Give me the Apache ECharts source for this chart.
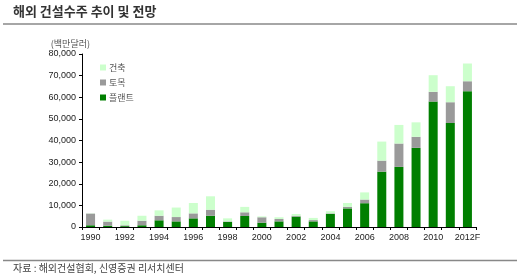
<!DOCTYPE html>
<html>
<head>
<meta charset="utf-8">
<script src="https://cdn.jsdelivr.net/npm/echarts@6/dist/echarts.min.js"></script>
<style>html,body{margin:0;padding:0;background:#fff}#c{width:520px;height:280px}</style>
</head>
<body>
<div id="c"></div>
<script>
var categories = ['1990','1991','1992','1993','1994','1995','1996','1997','1998','1999','2000','2001','2002','2003','2004','2005','2006','2007','2008','2009','2010','2011','2012F'];
var plant = [800,600,400,800,3100,2600,4000,5200,2300,5100,2000,2600,4800,2600,6000,8600,11000,25600,27800,36600,58000,48100,62800];
var civil = [5400,1900,400,2100,2100,2000,2300,2800,300,1700,2500,1100,400,600,300,700,1700,5100,10800,5100,4500,9600,4600];
var building = [100,900,2100,2300,2500,4400,4800,6200,1400,2500,400,800,800,1000,1000,1800,3300,8800,8600,6700,7700,7400,8200];
var yTicks = [0,10000,20000,30000,40000,50000,60000,70000,80000];

var chart = echarts.init(document.getElementById('c'), null, {renderer:'canvas'});
var font = '"Liberation Sans", Arial, sans-serif';
var kfont = '"Noto Sans CJK KR", sans-serif';
chart.setOption({
  animation:false,
  backgroundColor:'#fff',
  grid:{left:82,right:44,top:54,bottom:53,containLabel:false},
  legend:{
    orient:'vertical', left:95, top:58, itemGap:6, itemWidth:6, itemHeight:6, icon:'rect',
    data:['건축','토목','플랜트'],
    textStyle:{fontFamily:kfont,fontSize:9,color:'#555',padding:[0,0,0,-2]}
  },
  xAxis:{
    type:'category', data:categories, boundaryGap:true,
    axisLine:{lineStyle:{color:'#000',width:1}},
    axisTick:{show:true,interval:0,length:3,lineStyle:{color:'#000'}},
    axisLabel:{interval:1,fontFamily:font,fontSize:9,color:'#222',margin:6}
  },
  yAxis:{
    type:'value', min:yTicks[0], max:yTicks[yTicks.length-1], interval:yTicks[1]-yTicks[0],
    name:'(백만달러)', nameLocation:'end', nameGap:6,
    nameTextStyle:{fontFamily:kfont,fontSize:9,color:'#555',align:'right',padding:[0,-8,0,0]},
    axisLine:{show:true,lineStyle:{color:'#000',width:1}},
    axisTick:{show:true,length:3,lineStyle:{color:'#000'}},
    splitLine:{show:false},
    axisLabel:{fontFamily:font,fontSize:9,color:'#222',margin:6,
      formatter:function(v){return v.toLocaleString('en-US');}}
  },
  series:[
    {name:'플랜트',type:'bar',stack:'a',data:plant,barWidth:9,itemStyle:{color:'#007f00'}},
    {name:'토목',type:'bar',stack:'a',data:civil,barWidth:9,itemStyle:{color:'#9a9a9a'}},
    {name:'건축',type:'bar',stack:'a',data:building,barWidth:9,itemStyle:{color:'#ccffcc'}}
  ],
  graphic:[
    {type:'text',left:13,top:5,style:{text:'해외 건설수주 추이 및 전망',font:'bold 13px "Noto Sans CJK KR", sans-serif',fill:'#333'}},
    {type:'line',shape:{x1:3,y1:24,x2:517,y2:24},style:{stroke:'#888',lineWidth:1.5}},
    {type:'line',shape:{x1:3,y1:260.5,x2:517,y2:260.5},style:{stroke:'#888',lineWidth:1.5}},
    {type:'text',left:13,top:263,style:{text:'자료 : 해외건설협회, 신영증권 리서치센터',font:'10px "Noto Sans CJK KR", sans-serif',fill:'#444'}}
  ]
});
</script>
</body>
</html>
